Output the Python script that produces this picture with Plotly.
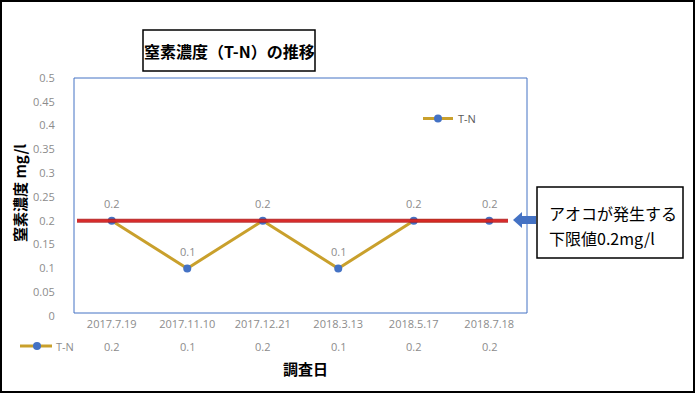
import plotly.graph_objects as go

dates = ["2017.7.19", "2017.11.10", "2017.12.21", "2018.3.13", "2018.5.17", "2018.7.18"]
tn_values = [0.2, 0.1, 0.2, 0.1, 0.2, 0.2]
threshold = 0.2
y_ticks = [0, 0.05, 0.1, 0.15, 0.2, 0.25, 0.3, 0.35, 0.4, 0.45, 0.5]
series_name = "T-N"

W, H = 695, 393
L, R, T, B = 74, 527, 78, 316


def px(x):
    return (x - L) / (R - L)


def py(y):
    return (B - y) / (B - T)


GOLD = "#C9A02C"
BLUE = "#4472C4"
GREY = "#8C8C8C"
JP = "Noto Sans CJK JP"
NUM = "Open Sans"

fig = go.Figure()
fig.add_trace(go.Scatter(
    x=dates, y=tn_values, name=series_name, mode="lines+markers",
    line=dict(color=GOLD, width=3),
    marker=dict(color=BLUE, size=8),
    showlegend=True,
))

shapes = []
# threshold red line (drawn over the series, like the reference)
shapes.append(dict(type="line", xref="paper", yref="y", x0=px(77), x1=px(508),
                   y0=threshold, y1=threshold, line=dict(color="#B01818", width=4), opacity=0.85))
shapes.append(dict(type="line", xref="paper", yref="y", x0=px(77), x1=px(508),
                   y0=threshold, y1=threshold, line=dict(color="#E02828", width=2), opacity=0.85))
# plot area border
shapes.append(dict(type="rect", xref="paper", yref="paper", x0=0, x1=1, y0=py(313), y1=1,
                   line=dict(color=BLUE, width=1)))
# outer border
shapes.append(dict(type="rect", xref="paper", yref="paper", x0=px(1), x1=px(694), y0=py(392), y1=py(1),
                   line=dict(color="black", width=2)))
# title box
shapes.append(dict(type="rect", xref="paper", yref="paper", x0=px(143), x1=px(315), y0=py(71), y1=py(30),
                   line=dict(color="black", width=1.5), fillcolor="white"))
# note box
shapes.append(dict(type="rect", xref="paper", yref="paper", x0=px(537), x1=px(683), y0=py(258), y1=py(187),
                   line=dict(color="black", width=1.5), fillcolor="white"))
# blue block arrow
ax0, ax1, ay = 513, 536, 220
path = (f"M {px(ax0)} {py(ay)} L {px(ax0+9)} {py(ay-8)} L {px(ax0+9)} {py(ay-4)} "
        f"L {px(ax1)} {py(ay-4)} L {px(ax1)} {py(ay+4)} L {px(ax0+9)} {py(ay+4)} "
        f"L {px(ax0+9)} {py(ay+8)} Z")
shapes.append(dict(type="path", xref="paper", yref="paper", path=path,
                   fillcolor=BLUE, line=dict(color=BLUE, width=0)))
# table legend key
shapes.append(dict(type="line", xref="paper", yref="paper", x0=px(20), x1=px(52), y0=py(346), y1=py(346),
                   line=dict(color=GOLD, width=3)))
shapes.append(dict(type="circle", xref="paper", yref="paper", x0=px(33), x1=px(41), y0=py(350), y1=py(342),
                   fillcolor=BLUE, line=dict(color=BLUE, width=0)))

annotations = []


def ann(x, y, text, font, xref="paper", yref="paper", xanchor="center", **kw):
    annotations.append(dict(x=x, y=y, xref=xref, yref=yref, text=text, showarrow=False,
                            xanchor=xanchor, yanchor="middle", font=font, **kw))


# data labels above points
for d, v in zip(dates, tn_values):
    ann(d, v, f"{v:g}", dict(family=NUM, size=11, color=GREY), xref="x", yref="y", yshift=17)
# data table values
for d, v in zip(dates, tn_values):
    ann(d, py(346), f"{v:g}", dict(family=NUM, size=11, color=GREY), xref="x")
ann(px(54), py(346), series_name, dict(family=NUM, size=11, color=GREY), xanchor="left")
# titles
ann(px(229), py(51), "<b>窒素濃度（T-N）の推移</b>", dict(family=JP, size=16, color="black"))
ann(px(305), py(368), "<b>調査日</b>", dict(family=JP, size=15, color="black"))
ann(px(19), py(193), "<b>窒素濃度 mg/l</b>", dict(family=JP, size=15, color="black"), textangle=-90)
ann(px(547), py(213), "アオコが発生する", dict(family=JP, size=16, color="black"), xanchor="left")
ann(px(547), py(238), "下限値0.2mg/l", dict(family=JP, size=16, color="black"), xanchor="left")

fig.update_layout(
    width=W, height=H,
    margin=dict(l=L, r=W - R, t=T, b=H - B),
    paper_bgcolor="white", plot_bgcolor="white",
    shapes=shapes, annotations=annotations,
    legend=dict(x=px(418), y=py(104), xanchor="left", yanchor="top",
                bgcolor="rgba(0,0,0,0)", font=dict(family=NUM, size=11, color="#595959")),
    xaxis=dict(type="category", range=[-0.5, len(dates) - 0.5], showgrid=False, zeroline=False,
               showline=False, ticks="", tickfont=dict(family=NUM, size=11, color=GREY)),
    yaxis=dict(range=[0, 0.5], tickvals=y_ticks, ticktext=[f"{t:g}" for t in y_ticks],
               showgrid=False, zeroline=False, showline=False,
               ticks="outside", ticklen=16, tickcolor="rgba(0,0,0,0)",
               tickfont=dict(family=NUM, size=11, color=GREY)),
)

fig.write_html("out.html", config={"displayModeBar": False})

with open("out.html", "r", encoding="utf-8") as f:
    html = f.read()
html = html.replace("<head>", "<head><style>html,body{margin:0;padding:0;overflow:hidden;}</style>", 1)
with open("out.html", "w", encoding="utf-8") as f:
    f.write(html)
